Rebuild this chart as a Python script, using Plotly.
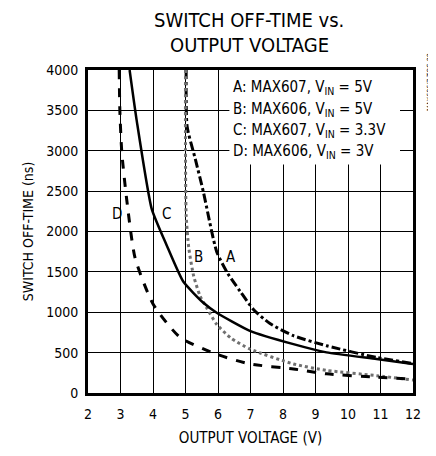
import plotly.graph_objects as go

# Curve data
xA = [5.02, 5.05, 5.3, 5.55, 5.96, 6.3, 6.68, 7.09, 7.6, 8.32, 9.34, 10.88, 12]
yA = [4000, 3300, 2900, 2490, 1750, 1480, 1260, 1035, 860, 710, 585, 440, 365]

xB = [5.0, 5.0, 5.02, 5.1, 5.25, 5.45, 5.65, 5.96, 6.4, 6.98, 8.32, 9.34, 10.88, 12]
yB = [4000, 3000, 2200, 1800, 1450, 1200, 1055, 850, 680, 545, 360, 280, 215, 160]

xC = [3.28, 3.5, 3.96, 4.42, 4.93, 5.55, 5.96, 6.98, 8.32, 9.34, 10.88, 12]
yC = [4000, 3370, 2280, 1830, 1380, 1117, 994, 770, 605, 503, 421, 360]

xD = [2.96, 2.98, 3.04, 3.19, 3.45, 4.01, 4.83, 5.96, 6.98, 8.32, 9.34, 10.88, 12]
yD = [4000, 3500, 2980, 2400, 1670, 1096, 690, 480, 360, 298, 237, 196, 170]

legend_lines = [
    "A: MAX607, V<sub>IN</sub> = 5V",
    "B: MAX606, V<sub>IN</sub> = 5V",
    "C: MAX607, V<sub>IN</sub> = 3.3V",
    "D: MAX606, V<sub>IN</sub> = 3V",
]
curve_labels = ["A", "B", "C", "D"]
label_x = [6.39, 5.39, 4.42, 2.88]
label_y = [1680, 1680, 2220, 2220]

FONT = "DejaVu Sans Condensed, Liberation Sans Narrow, sans-serif"

fig = go.Figure()
fig.add_trace(go.Scatter(x=xA, y=yA, mode="lines", line=dict(color="black", width=3, dash="dashdot", shape="spline", smoothing=0.6)))
fig.add_trace(go.Scatter(x=xB, y=yB, mode="lines", line=dict(color="#707070", width=3, dash="dot", shape="spline", smoothing=0.6)))
fig.add_trace(go.Scatter(x=xC, y=yC, mode="lines", line=dict(color="black", width=2.5, shape="spline", smoothing=0.5)))
fig.add_trace(go.Scatter(x=xD, y=yD, mode="lines", line=dict(color="black", width=3, dash="dash", shape="spline", smoothing=0.6)))

# white legend box
fig.add_shape(type="rect", xref="x", yref="y", x0=6.35, x1=11.6, y0=2830, y1=4000,
              fillcolor="white", line=dict(width=0), layer="between")

for i, t in enumerate(legend_lines):
    fig.add_annotation(x=6.4, y=[3780, 3510, 3250, 2995][i], xref="x", yref="y", text=t,
                       showarrow=False, xanchor="left", yanchor="middle",
                       font=dict(family=FONT, size=15, color="black"))

for lab, lx, ly in zip(curve_labels, label_x, label_y):
    fig.add_annotation(x=lx, y=ly, text=lab, showarrow=False, xanchor="center", yanchor="middle",
                       font=dict(family=FONT, size=15, color="black"))

W, H = 428, 448
L, R, T, B = 80, 23, 62, 60
pw, ph = W - L - R, H - T - B
def px(xp):
    return (xp - 8 - L) / pw
def py(yp):
    return 1 - (yp - 8 - T) / ph

fig.add_annotation(x=px(249), y=py(20), xref="paper", yref="paper", text="SWITCH OFF-TIME vs.",
                   showarrow=False, xanchor="center", yanchor="middle",
                   font=dict(family=FONT, size=20, color="black"))
fig.add_annotation(x=px(249), y=py(45), xref="paper", yref="paper", text="OUTPUT VOLTAGE",
                   showarrow=False, xanchor="center", yanchor="middle",
                   font=dict(family=FONT, size=20, color="black"))

fig.add_annotation(x=px(430), y=py(82), xref="paper", yref="paper", text="MAX606/7 TOC-08",
                   showarrow=False, textangle=-90, xanchor="center", yanchor="middle",
                   font=dict(family=FONT, size=7, color="black"))

fig.update_layout(
    width=W, height=H,
    margin=dict(l=L, r=R, t=T, b=B),
    paper_bgcolor="white", plot_bgcolor="white",
    showlegend=False,
    font=dict(family=FONT, size=14, color="black"),
    xaxis=dict(range=[2, 12], dtick=1, tick0=2, showgrid=True, gridcolor="black", gridwidth=1,
               showline=True, linecolor="black", linewidth=3, mirror=True, ticks="",
               zeroline=False, ticklabelstandoff=6,
               title=dict(text="OUTPUT VOLTAGE (V)", font=dict(family=FONT, size=15), standoff=12)),
    yaxis=dict(range=[0, 4000], dtick=500, showgrid=True, gridcolor="black", gridwidth=1,
               showline=True, linecolor="black", linewidth=3, mirror=True, ticks="",
               zeroline=False, ticklabelstandoff=4,
               title=dict(text="SWITCH OFF-TIME (ns)", font=dict(family=FONT, size=14), standoff=10)),
)

fig.write_html("out.html")
